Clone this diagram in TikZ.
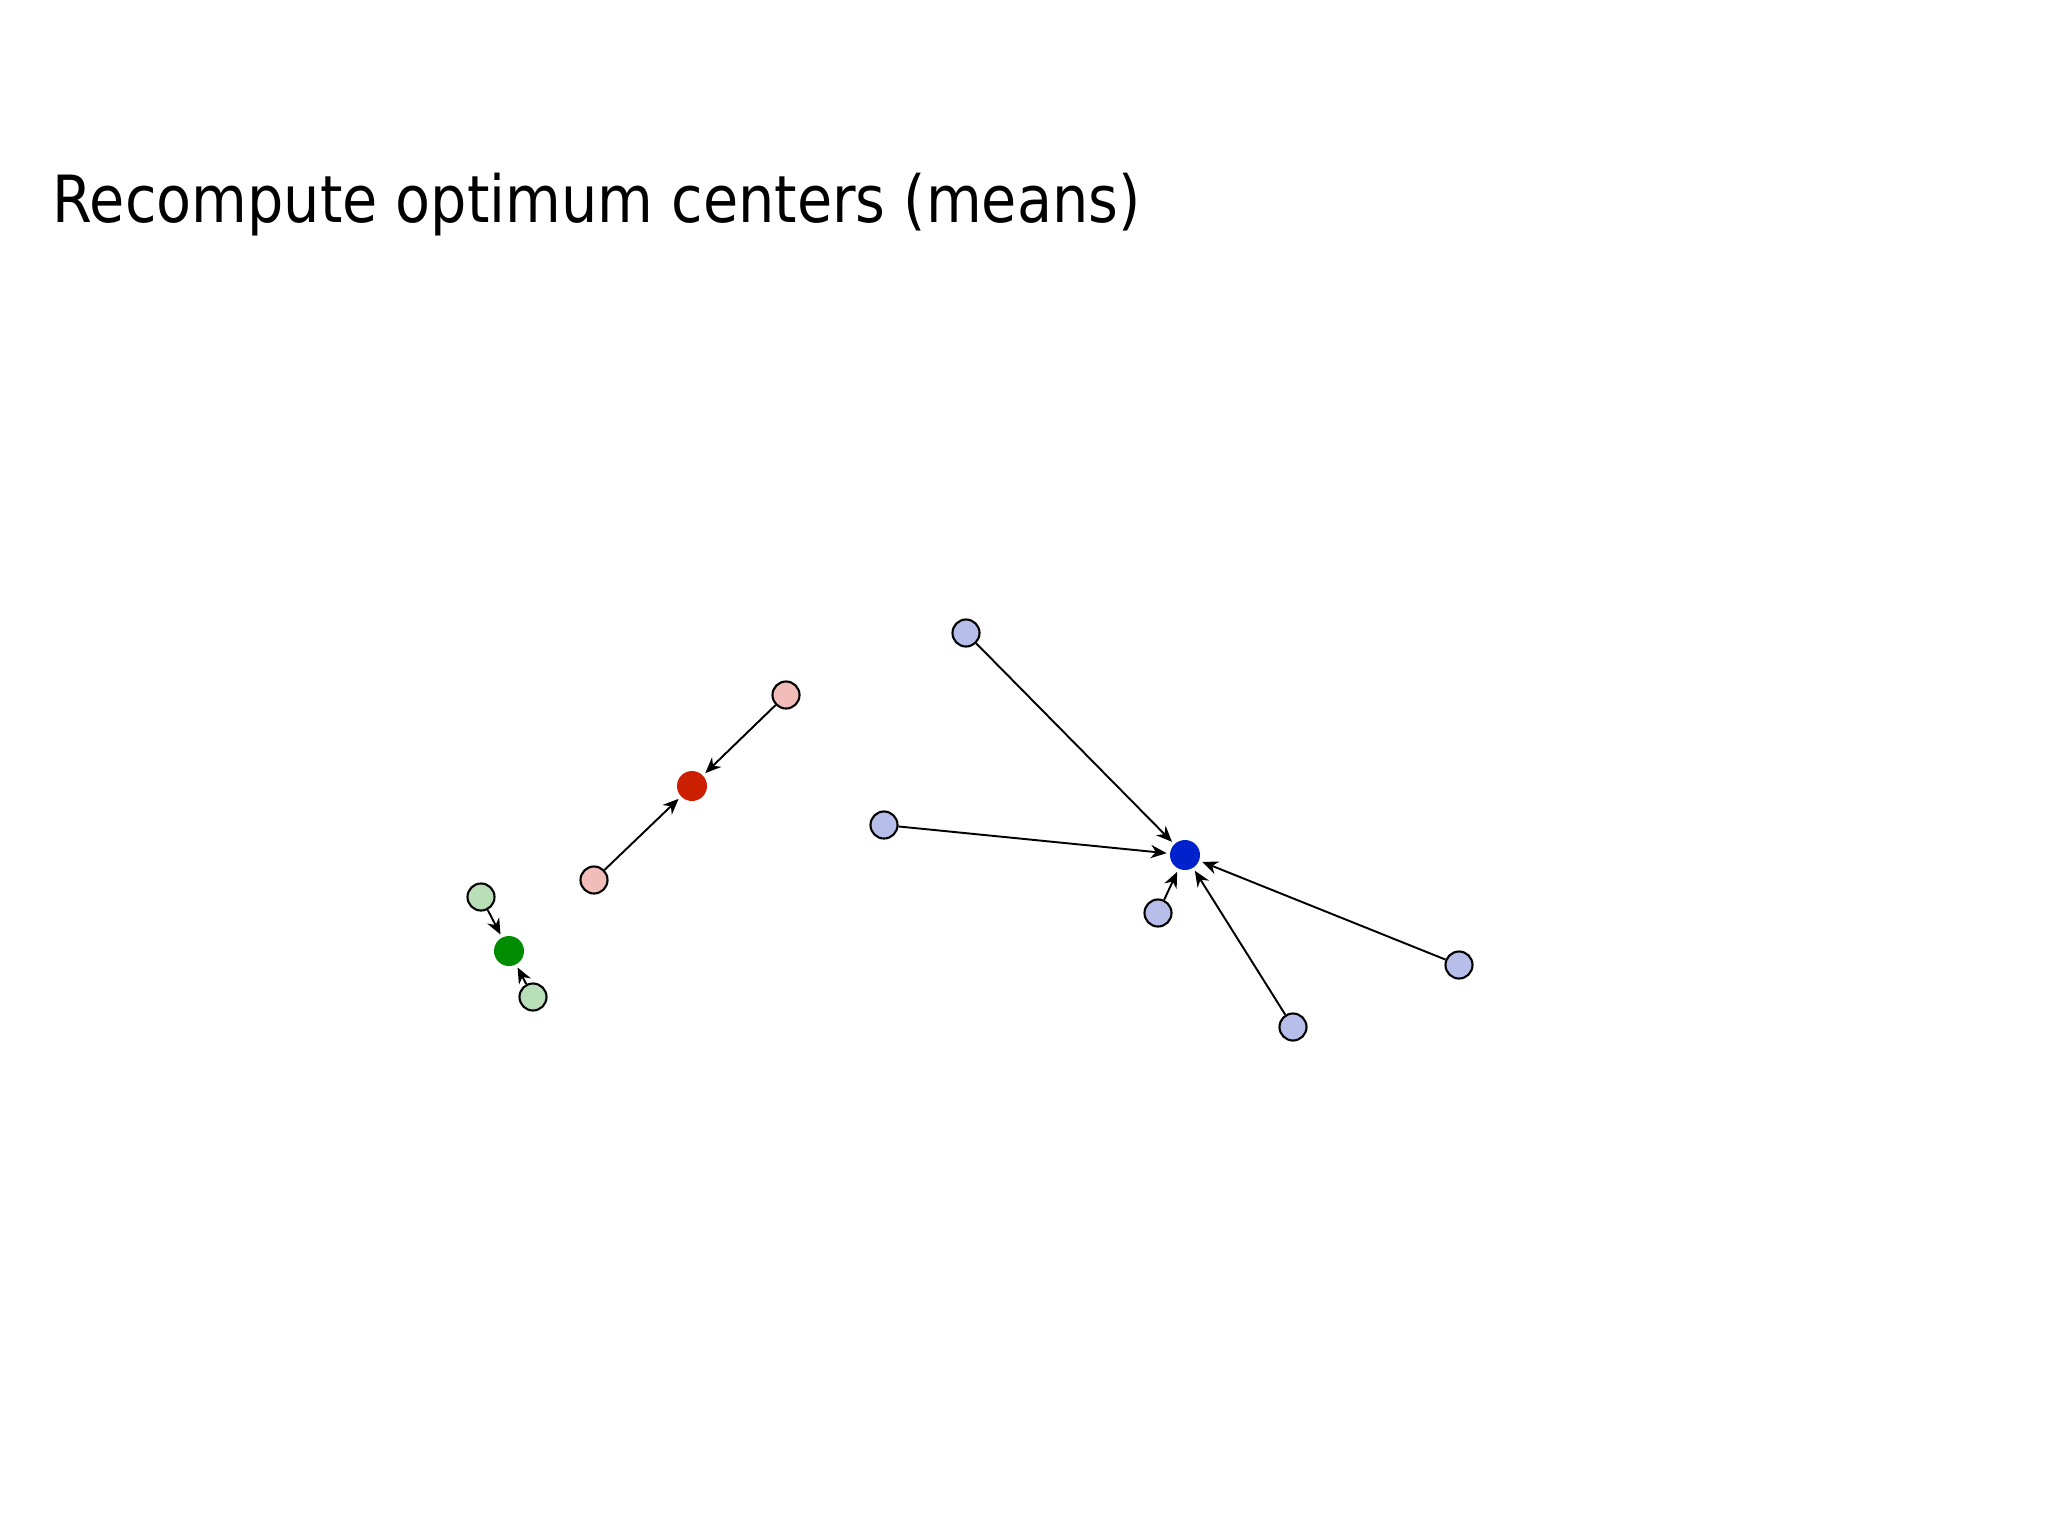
\documentclass[tikz,border=0pt]{standalone}
\usepackage{fontspec}
\setmainfont{DejaVu Sans}
\newfontfamily\titlefont[FakeStretch=0.88]{DejaVu Sans}
\usetikzlibrary{arrows.meta}

\definecolor{greenlight}{HTML}{B9DFB9}
\definecolor{greendark}{HTML}{008C00}
\definecolor{redlight}{HTML}{F2BDB8}
\definecolor{reddark}{HTML}{CC1F00}
\definecolor{bluelight}{HTML}{B8BEEA}
\definecolor{bluedark}{HTML}{0022CC}

\tikzset{
  point/.style={circle, draw=black, line width=0.6pt, minimum size=0.27cm, inner sep=0pt},
  mean/.style={circle, minimum size=0.3cm, inner sep=0pt, outer sep=1pt},
  move/.style={-{Stealth[length=4.5pt,width=3.8pt]}, line width=0.55pt}
}

\begin{document}
\begin{tikzpicture}[x=0.01cm, y=-0.01cm]
	\useasboundingbox (0,0) rectangle (2048,1536);

	\node[anchor=base west, inner sep=0pt, font=\titlefont\fontsize{18.5}{22}\selectfont] (title) at (52,222) {Recompute optimum centers (means)};

	% green cluster
	\node[mean, fill=greendark]   (g0) at (509,951)  {};
	\node[point, fill=greenlight] (g1) at (481,897)  {};
	\node[point, fill=greenlight] (g2) at (533,997)  {};

	% red cluster
	\node[mean, fill=reddark]     (r0) at (692,786)  {};
	\node[point, fill=redlight]   (r1) at (594,880)  {};
	\node[point, fill=redlight]   (r2) at (786,695)  {};

	% blue cluster
	\node[mean, fill=bluedark]    (b0) at (1185,855) {};
	\node[point, fill=bluelight]  (b1) at (966,633)  {};
	\node[point, fill=bluelight]  (b2) at (884,825)  {};
	\node[point, fill=bluelight]  (b3) at (1158,913) {};
	\node[point, fill=bluelight]  (b4) at (1293,1027) {};
	\node[point, fill=bluelight]  (b5) at (1459,965) {};

	\draw (g1) edge[move] (g0)
		(g2) edge[move] (g0)

		(r1) edge[move] (r0)
		(r2) edge[move] (r0)

		(b1) edge[move] (b0)
		(b2) edge[move] (b0)
		(b3) edge[move] (b0)
		(b4) edge[move] (b0)
		(b5) edge[move] (b0);
\end{tikzpicture}
\end{document}
